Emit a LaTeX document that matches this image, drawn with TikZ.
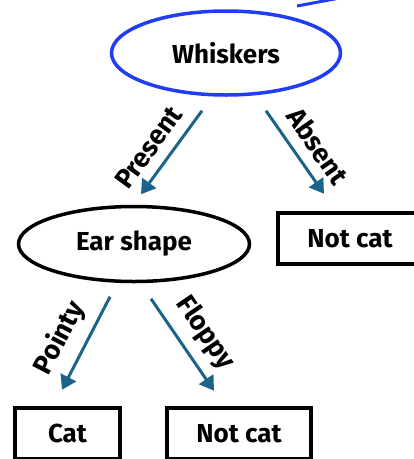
\documentclass[tikz,border=0pt]{standalone}
\usepackage{fontspec}
\setmainfont{Fira Sans}
\usetikzlibrary{positioning, arrows.meta, shapes.geometric}
\definecolor{edgeB}{HTML}{1B6388}
\definecolor{rootB}{HTML}{1F3DF5}

\tikzset{
  test/.style={ellipse, draw, line width=3.5pt, inner sep=0pt},
  leaf/.style={rectangle, draw, line width=4.5pt, inner sep=0pt, minimum height=51pt},
  branch/.style={edgeB, line width=3pt, -{Triangle[length=14pt,width=17pt]}},
  blab/.style={sloped, above=7pt, text=black, font=\fontsize{27}{29}\selectfont\bfseries}
}

\begin{document}
\begin{tikzpicture}[x=1pt, y=-1pt, font=\fontsize{26}{30}\selectfont\bfseries]
  \useasboundingbox (0,0) rectangle (414,459);
  % decision nodes
  \node[test, draw=rootB, minimum width=229pt, minimum height=84pt] (whisk) at (226,53) {Whiskers};
  \node[test, minimum width=231pt, minimum height=75pt] (ear) at (134,244) {Ear shape};
  % leaves
  \node[leaf, minimum width=144pt] (notcatA) at (350,238.5) {Not cat};
  \node[leaf, minimum width=105pt] (cat) at (67.5,433.5) {Cat};
  \node[leaf, minimum width=144pt] (notcatB) at (239,433.5) {Not cat};
  % edge coming from the parent (cut off)
  \coordinate (stub) at (297,6);
  \coordinate (parent) at (345,-3);
  \draw[rootB, line width=3pt] (stub) -- (parent);
  % branches
  \draw[branch] ([xshift=-24pt,yshift=-14pt]whisk.south) -- ([xshift=7pt,yshift=10.5pt]ear.north)
     node[blab, pos=0.59] {Present};
  \draw[branch] ([xshift=40pt,yshift=-14pt]whisk.south) -- ([xshift=-26pt,yshift=17pt]notcatA.north)
     node[blab, pos=0.58] {Absent};
  \draw[branch] ([xshift=-24pt,yshift=-13.5pt]ear.south) -- ([xshift=-5.5pt,yshift=16pt]cat.north)
     node[blab, pos=0.57] {Pointy};
  \draw[branch] ([xshift=17pt,yshift=-15.5pt]ear.south) -- ([xshift=-25pt,yshift=15pt]notcatB.north)
     node[blab, pos=0.53] {Floppy};
\end{tikzpicture}
\end{document}
